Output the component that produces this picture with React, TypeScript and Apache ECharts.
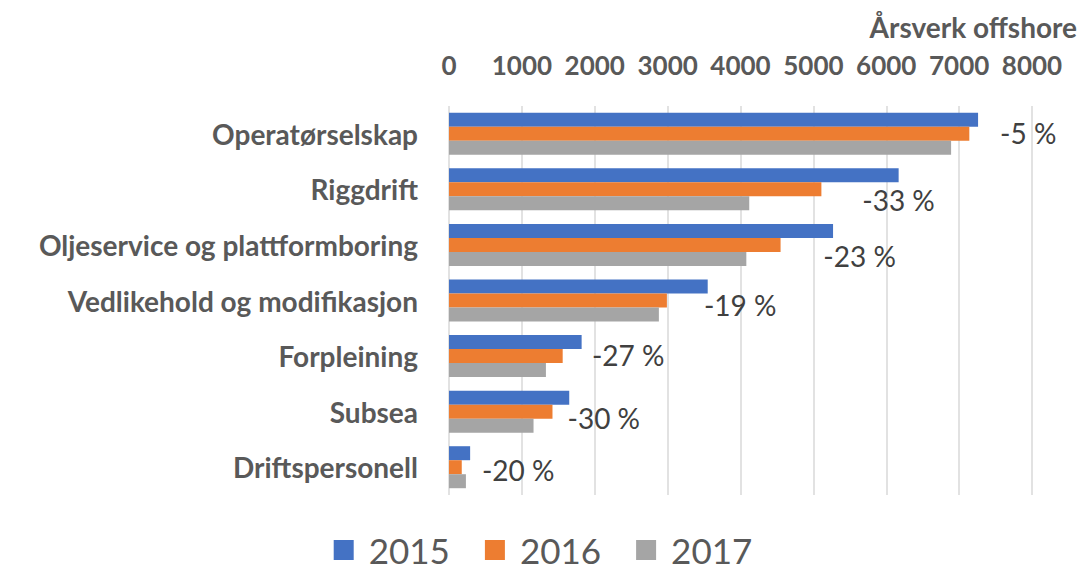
import React, { useEffect, useRef } from "react";
import * as echarts from "echarts";

const categories = [
  "Operatørselskap",
  "Riggdrift",
  "Oljeservice og plattformboring",
  "Vedlikehold og modifikasjon",
  "Forpleining",
  "Subsea",
  "Driftspersonell",
];
const values2015 = [7260, 6170, 5270, 3550, 1820, 1650, 290];
const values2016 = [7140, 5110, 4550, 2990, 1560, 1420, 175];
const values2017 = [6890, 4120, 4080, 2880, 1330, 1160, 232];
const changeLabels = ["-5 %", "-33 %", "-23 %", "-19 %", "-27 %", "-30 %", "-20 %"];
const tickValues = [0, 1000, 2000, 3000, 4000, 5000, 6000, 7000, 8000];

// label placement offsets (layout, relative to end of 2017 bar)
const labelOffsets: [number, number][] = [
  [44, -15],
  [108, -3],
  [72, -3],
  [40, -10],
  [41, -15],
  [29, -8],
  [11, -11],
];

const FONT = "Lato, 'Open Sans', sans-serif";
const GREY = "#595959";

export default function App() {
  const ref = useRef<HTMLDivElement>(null);
  useEffect(() => {
    document.body.style.margin = "0";
    if (!ref.current) return;
    const chart = echarts.init(ref.current, undefined, { renderer: "svg" });
    chart.setOption({
      animation: false,
      backgroundColor: "#ffffff",
      title: {
        text: "Årsverk offshore",
        right: 4,
        top: 8,
        textStyle: { fontFamily: FONT, fontSize: 28, fontWeight: "bold", color: GREY },
      },
      legend: {
        left: "center",
        top: 527,
        itemWidth: 20,
        itemHeight: 20,
        itemGap: 35,
        icon: "rect",
        textStyle: {
          fontFamily: FONT,
          fontSize: 35,
          lineHeight: 36,
          color: GREY,
          padding: [0, 0, 0, 10],
        },
        data: ["2015", "2016", "2017"],
      },
      grid: { left: 449, right: 54, top: 106, bottom: 79, containLabel: false },
      xAxis: {
        type: "value",
        position: "top",
        min: tickValues[0],
        max: tickValues[tickValues.length - 1],
        interval: 1000,
        axisLine: { show: false },
        axisTick: { show: false },
        axisLabel: {
          margin: 28,
          fontFamily: FONT,
          fontSize: 26,
          fontWeight: "bold",
          color: GREY,
          formatter: (v: number) => String(v),
        },
        splitLine: { show: true, lineStyle: { color: "#d9d9d9", width: 1.5 } },
      },
      yAxis: {
        type: "category",
        inverse: true,
        data: categories,
        axisLine: { show: false },
        axisTick: { show: false },
        axisLabel: {
          margin: 31,
          fontFamily: FONT,
          fontSize: 28,
          fontWeight: "bold",
          color: GREY,
        },
      },
      series: [
        {
          name: "2015",
          type: "bar",
          data: values2015,
          barWidth: 14,
          barGap: "0%",
          itemStyle: { color: "#4472C4" },
        },
        {
          name: "2016",
          type: "bar",
          data: values2016,
          barWidth: 14,
          barGap: "0%",
          itemStyle: { color: "#ED7D31" },
        },
        {
          name: "2017",
          type: "bar",
          data: values2017.map((v, i) => ({
            value: v,
            label: {
              show: true,
              position: "right",
              offset: labelOffsets[i],
              formatter: changeLabels[i],
            },
          })),
          barWidth: 14,
          barGap: "0%",
          itemStyle: { color: "#A5A5A5" },
          label: {
            show: true,
            fontFamily: FONT,
            fontSize: 28,
            color: "#404040",
          },
        },
      ],
    });
    return () => chart.dispose();
  }, []);
  return <div ref={ref} style={{ width: 1086, height: 574 }} />;
}
